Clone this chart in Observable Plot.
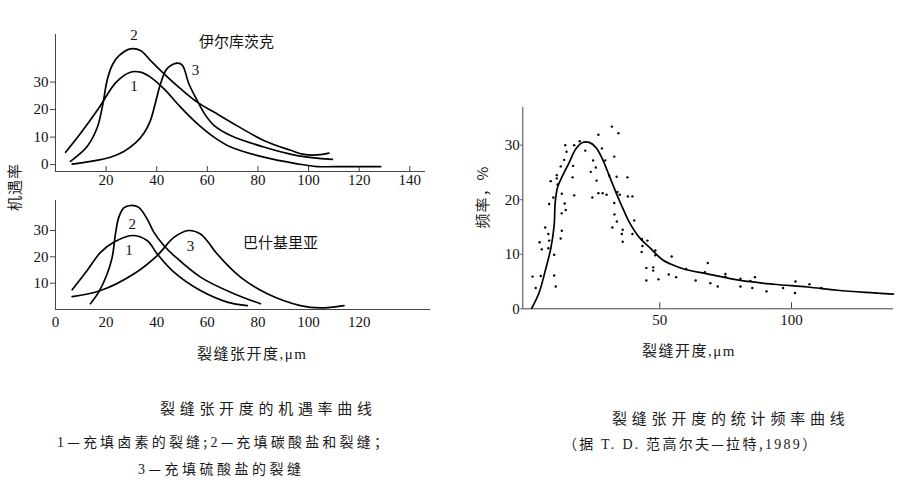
<!DOCTYPE html>
<html><head><meta charset="utf-8">
<script src="https://cdn.jsdelivr.net/npm/d3@7"></script>
<script src="https://cdn.jsdelivr.net/npm/@observablehq/plot@0.6"></script>
<style>
html,body{margin:0;padding:0;background:#fff;}
#root{position:relative;width:905px;height:484px;overflow:hidden;background:#fff;}
.p{position:absolute;}
.t{position:absolute;white-space:nowrap;color:#1a1a1a;font-family:"Noto Sans CJK SC","Noto Sans CJK JP",sans-serif;line-height:20px;}
.s{font-family:"Liberation Serif","Times New Roman",serif;}
.rot{transform:translate(-50%,-50%) rotate(-90deg);}
</style></head><body><div id="root"></div>
<script>
// ---------- DATA ----------
// 伊尔库茨克 (upper left)
const irkX1 = [4.0,10,17.0,24,29.6,33.6,37.5,42.8,49.4,56.0,62.6,69.2,82.3,95.5,103.4,114.0,128.5];
const irkY1 = [4.5,11.5,20.4,30,33.6,33.6,31.8,27.6,20.9,14.9,10.0,6.4,2.7,0.3,-0.7,-0.7,-0.7];
const irkX2 = [5.9,12.5,16.5,18.5,20.5,22.5,25.0,29.6,33.6,37.5,42.8,49.4,56.0,62.6,69.2,82.3,92.9,98.1,104.7,108.0];
const irkY2 = [1.2,6.6,13.5,21.0,31.0,36.3,39.5,42.1,41.5,37.9,33.1,27.6,22.7,19.1,15.5,8.8,5.2,3.7,3.6,4.2];
const irkX3 = [6.6,14,21.7,27,31.5,35,37.5,39.5,41.5,44.1,48.1,50.1,52.7,56.0,59.3,62.6,69.2,82.3,95.5,109.4];
const irkY3 = [0.2,1.2,2.7,4.8,7.8,11.5,16,22.5,29.4,34.9,36.9,36.2,29.4,23.3,17.9,14.3,10.6,6.4,3.3,1.9];
const irkLabelX = [31.0,31.0,55.3];
const irkLabelY = [28.4,47.0,34.3];
const irkLabelText = ["1","2","3"];
const irkTitle = "伊尔库茨克";
const topXTicks = [20,40,60,80,100,120,140];
const topYTicks = [0,10,20,30];

// 巴什基里亚 (lower left)
const bashX1 = [6.6,12.5,17.8,23.0,30.3,36.2,40.2,46.8,57.3,67.9,75.8];
const bashY1 = [7.5,14.8,21.7,25.5,28.1,26.2,21.1,14.2,7.2,2.8,1.5];
const bashX2 = [13.8,17,20.4,22.4,23.7,25.0,27.0,29.6,32.9,36.2,38.9,42.8,46.8,57.3,70.5,81.0];
const bashY2 = [2.2,6.5,13.5,19.8,28.7,35.0,38.6,39.5,38.8,34.4,29.3,24.3,20.5,12.3,6.0,2.2];
const bashX3 = [6.6,17.8,30.9,40.2,46.8,52.7,57.3,60.0,63.9,73.1,83.7,96.8,104.7,114.0];
const bashY3 = [4.9,7.2,13.5,20.5,27.4,30.0,28.7,26.0,21.1,12.3,6.0,1.5,0.6,1.5];
const bashLabelX = [29.0,30.3,53.4];
const bashLabelY = [22.4,32.5,23.9];
const bashLabelText = ["1","2","3"];
const bashTitle = "巴什基里亚";
const botXTicks = [0,20,40,60,80,100,120];
const botYTicks = [10,20,30];

// 统计频率 (right)
const freqCurveX = [1.4,4.2,6.7,8.6,9.9,10.3,11.2,13.1,15.6,18.1,20.7,23.2,25.7,28.2,30.8,33.3,35.8,38.4,42.2,46.0,51.0,54.1,59.1,68.0,80.6,93.3,106.0,117.3,128,138.7];
const freqCurveY = [0.1,3.0,7.3,11.0,15.3,19.5,22.3,24.4,26.8,29.3,30.5,30.5,29.6,27.5,24.4,21.4,18.6,15.9,13.1,11.3,9.0,8.2,7.3,6.4,5.2,4.5,4.0,3.4,3.0,2.7];
const freqDotX = [1.7,2.9,4.4,5.2,4.8,6.5,7.7,8.0,7.7,8.0,8.6,9.6,9.9,9.9,10.5,10.9,10.9,11.2,12.4,12.8,12.8,12.8,12.4,13.9,14.3,13.7,14.1,14.6,17.1,16.9,17.5,17.5,19.6,21.7,23.8,24.4,24.7,25.7,26.0,26.7,26.7,28.0,28.3,29.3,29.8,30.8,31.8,32.7,32.0,32.7,32.8,33.7,33.6,34.3,33.9,34.8,35.6,35.9,35.9,37.7,37.9,39.6,40.3,39.6,43.2,43.4,43.1,45.3,44.9,44.9,47.5,47.5,48.3,48.3,49.5,53.4,54.5,56.2,60.0,63.6,67.1,68.2,69.2,72.0,74.9,74.9,80.6,80.6,84.4,85.1,86.1,90.5,96.8,101.5,101.3,106.8,111.3];
const freqDotY = [5.9,3.8,12.2,10.9,6.0,14.9,13.7,12.5,11.1,19.2,23.4,20.4,9.9,6.1,4.1,24.5,23.9,22.8,26.1,21.1,17.5,14.3,12.9,19.3,18.1,27.3,30.0,28.8,26.2,24.1,20.8,30.0,30.7,29.0,25.1,20.4,27.2,25.9,23.5,31.9,21.2,29.4,21.2,27.2,20.9,24.4,33.4,27.9,14.9,19.4,17.3,16.0,24.2,32.2,21.4,20.9,13.7,14.5,12.3,24.1,20.6,20.6,16.2,13.7,12.8,11.5,10.4,12.5,7.5,5.2,7.6,7.0,10.7,9.8,5.4,6.3,9.6,5.8,7.3,5.2,6.7,8.4,4.7,4.1,6.4,5.9,5.5,4.1,5.1,3.8,5.8,3.2,3.8,5.0,2.9,4.5,3.8];
const freqXTicks = [50,100];
const freqYTicks = [0,10,20,30];

// texts
const leftYLabel = "机遇率";
const leftXLabel = "裂缝张开度";
const rightYLabel = "频率，%";
const rightXLabel = "裂缝开度";
const unitLabel = ",μm";

// ---------- DRAW ----------
const serif = "'Liberation Serif','Times New Roman',serif";
const cjk = "'Noto Sans CJK SC','Noto Sans CJK JP',sans-serif";
const ink = "#111";
const axisInk = "#444";
const root = document.getElementById("root");

const pts = (xs, ys, id) => xs.map((x, i) => ({x, y: ys[i], id}));
const labs = (xs, ys, ts) => xs.map((x, i) => ({x, y: ys[i], t: ts[i]}));

function place(node, left, top) {
  node.style.position = "absolute";
  node.style.left = left + "px";
  node.style.top = top + "px";
  root.appendChild(node);
}

function panel(cfg) {
  const innerH = cfg.height - cfg.marginTop - cfg.marginBottom;
  const upp = (cfg.yDomain[1] - cfg.yDomain[0]) / innerH;
  const marks = [
    Plot.ruleX([cfg.xDomain[0]], {stroke: axisInk, strokeWidth: 1}),
    Plot.ruleY([cfg.yDomain[0]], {stroke: axisInk, strokeWidth: 1}),
    Plot.axisY({ticks: cfg.yTicks, tickSize: cfg.yTickSize, tickPadding: cfg.yTickPad, label: null, stroke: axisInk, fill: ink}),
    Plot.axisX({ticks: cfg.xTicks, tickSize: 0, tickPadding: cfg.xTickPad, label: null, fill: ink})
  ];
  if (cfg.inward) marks.push(Plot.ruleX(cfg.xTicks, {x: d => d, y1: cfg.yDomain[0], y2: cfg.yDomain[0] + cfg.inward * upp, stroke: axisInk}));
  marks.push(...cfg.marks);
  const svg = Plot.plot({
    width: cfg.width, height: cfg.height,
    marginLeft: cfg.marginLeft, marginRight: cfg.marginRight, marginTop: cfg.marginTop, marginBottom: cfg.marginBottom,
    x: {domain: cfg.xDomain}, y: {domain: cfg.yDomain},
    style: {fontFamily: serif, fontSize: "15px", background: "transparent", color: ink, overflow: "visible"},
    marks
  });
  place(svg, cfg.left, cfg.top);
}

const lineOpts = {x: "x", y: "y", z: "id", curve: "catmull-rom", stroke: "#000", strokeWidth: 1.7};

// upper left
panel({
  left: 0, top: 0, width: 440, height: 200,
  marginLeft: 55, marginRight: 15, marginTop: 34, marginBottom: 29,
  xDomain: [0, 146.2], yDomain: [-2.5, 47.3],
  xTicks: topXTicks, yTicks: topYTicks, yTickSize: 5, yTickPad: 2, xTickPad: 3, inward: 5,
  marks: [
    Plot.line([...pts(irkX1, irkY1, 1), ...pts(irkX2, irkY2, 2), ...pts(irkX3, irkY3, 3)], lineOpts),
    Plot.text(labs(irkLabelX, irkLabelY, irkLabelText), {x: "x", y: "y", text: "t", fill: ink, fontSize: 15}),
    Plot.text([irkTitle], {x: 71.5, y: 44.4, text: d => d, fontFamily: cjk, fontSize: 15, fill: ink})
  ]
});

// lower left
panel({
  left: 0, top: 190, width: 440, height: 145,
  marginLeft: 55, marginRight: 10, marginTop: 10, marginBottom: 26,
  xDomain: [0, 148.2], yDomain: [0, 41.4],
  xTicks: botXTicks, yTicks: botYTicks, yTickSize: 5, yTickPad: 2, xTickPad: 7, inward: 0,
  marks: [
    Plot.line([...pts(bashX1, bashY1, 1), ...pts(bashX2, bashY2, 2), ...pts(bashX3, bashY3, 3)], lineOpts),
    Plot.text(labs(bashLabelX, bashLabelY, bashLabelText), {x: "x", y: "y", text: "t", fill: ink, fontSize: 15}),
    Plot.text([bashTitle], {x: 88.9, y: 25.0, text: d => d, fontFamily: cjk, fontSize: 15, fill: ink})
  ]
});

// right
panel({
  left: 460, top: 100, width: 440, height: 230,
  marginLeft: 62.3, marginRight: 7, marginTop: 7, marginBottom: 21.7,
  xDomain: [-2, 138.7], yDomain: [0, 36.9],
  xTicks: freqXTicks, yTicks: freqYTicks, yTickSize: 2, yTickPad: 1, xTickPad: 6, inward: 6,
  marks: [
    Plot.line(pts(freqCurveX, freqCurveY, 1), lineOpts),
    Plot.dot(pts(freqDotX, freqDotY, 0), {x: "x", y: "y", r: 1.2, fill: "#000", stroke: null})
  ]
});

// HTML texts
function txt(html, left, top, size, spacing, extraClass) {
  const d = document.createElement("div");
  d.className = "t" + (extraClass ? " " + extraClass : "");
  d.innerHTML = html;
  d.style.fontSize = size + "px";
  d.style.letterSpacing = spacing + "px";
  place(d, left, top);
  return d;
}
txt(leftYLabel, 14, 187, 15, 1, "rot");
txt(leftXLabel + '<span class="s">' + unitLabel + '</span>', 197, 343, 15, 1.5);
txt(rightYLabel, 482, 197, 15, 1, "rot");
txt(rightXLabel + '<span class="s">' + unitLabel + '</span>', 642, 340, 15, 1.5);

txt("裂缝张开度的机遇率曲线", 160, 398, 15, 4.7);
txt('<span class="s">1</span>—充填卤素的裂缝;<span class="s">2</span>—充填碳酸盐和裂缝；', 57, 431, 14, 3.2);
txt('<span class="s">3</span>—充填硫酸盐的裂缝', 138, 458, 14, 3.5);
txt("裂缝张开度的统计频率曲线", 612, 408, 15, 4.8);
txt('（据 <span class="s">T. D.</span> 范高尔夫—拉特,<span class="s">1989</span>）', 563, 433, 14, 2.3);
</script></body></html>
